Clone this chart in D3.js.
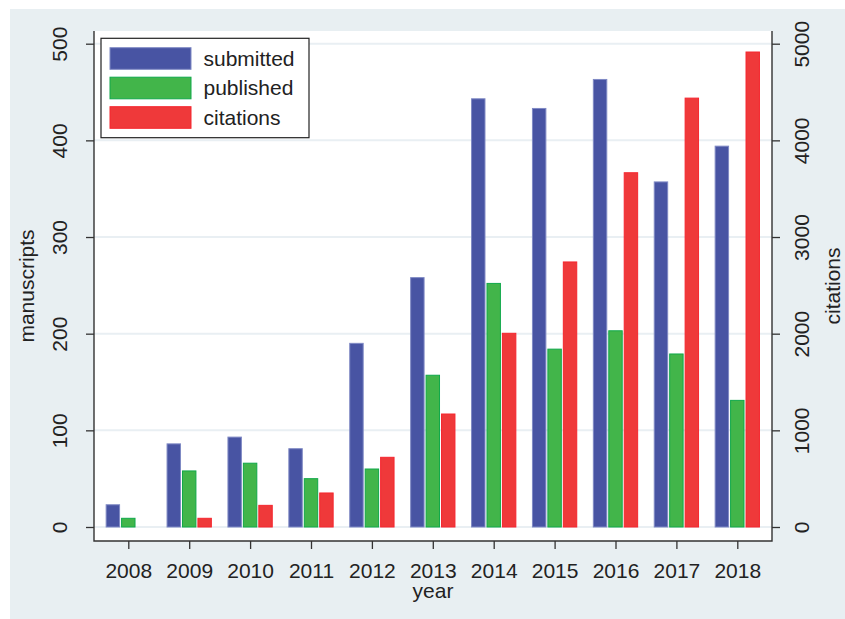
<!DOCTYPE html>
<html>
<head>
<meta charset="utf-8">
<script src="https://cdn.jsdelivr.net/npm/d3@7"></script>
<style>
  body { margin: 0; background: #fff; }
  svg text { font-family: "Liberation Sans", Arial, Helvetica, sans-serif; fill: #222; }
</style>
</head>
<body>
<svg id="chart" width="845" height="619"></svg>
<script>
// data
var years = ["2008", "2009", "2010", "2011", "2012", "2013", "2014", "2015", "2016", "2017", "2018"];
var submitted = [23, 86, 93, 81, 190, 258, 443, 433, 463, 357, 394];
var published = [9, 58, 66, 50, 60, 157, 252, 184, 203, 179, 131];
var citations = [0, 90, 224, 352, 721, 1169, 2004, 2742, 3665, 4437, 4914];
var seriesNames = ["submitted", "published", "citations"];
var manuscriptTicks = [0, 100, 200, 300, 400, 500];
var citationTicks = [0, 1000, 2000, 3000, 4000, 5000];

var fills = { submitted: "#4854a3", published: "#42b54a", citations: "#ef393a" };
var strokes = { submitted: "#7f89c4", published: "#10a84a", citations: "#f5262e" };

var svg = d3.select("#chart");

// outer panel
svg.append("rect").attr("x", 10).attr("y", 9).attr("width", 835).attr("height", 610)
  .attr("fill", "#e8eff2");

var plot = { left: 94, right: 772, top: 31, bottom: 541 };

svg.append("rect")
  .attr("x", plot.left).attr("y", plot.top)
  .attr("width", plot.right - plot.left).attr("height", plot.bottom - plot.top)
  .attr("fill", "#fff");

var x = d3.scalePoint().domain(years).range([128.3, 737.3]);
var xs = d3.scaleBand().domain(seriesNames).range([-22.15, 22.15]).paddingInner(0.13);
var yL = d3.scaleLinear().domain([0, 500]).range([527, 43.7]);
var yR = d3.scaleLinear().domain([0, 5000]).range([527, 43.7]);

// grid lines
svg.append("g").selectAll("line").data(manuscriptTicks).enter().append("line")
  .attr("x1", plot.left).attr("x2", plot.right)
  .attr("y1", function (d) { return yL(d); })
  .attr("y2", function (d) { return yL(d); })
  .attr("stroke", "#e9eff3").attr("stroke-width", 2);

// bars
var rows = years.map(function (y, i) {
  return { year: y, submitted: submitted[i], published: published[i], citations: citations[i] };
});

var groups = svg.append("g").selectAll("g").data(rows).enter().append("g")
  .attr("transform", function (d) { return "translate(" + x(d.year) + ",0)"; });

groups.selectAll("rect")
  .data(function (d) {
    return seriesNames.map(function (s) { return { key: s, value: d[s] }; });
  })
  .enter().filter(function (d) { return d.value > 0; })
  .append("rect")
  .attr("x", function (d) { return xs(d.key); })
  .attr("width", xs.bandwidth())
  .attr("y", function (d) { return d.key === "citations" ? yR(d.value) : yL(d.value); })
  .attr("height", function (d) {
    return 527 - (d.key === "citations" ? yR(d.value) : yL(d.value));
  })
  .attr("fill", function (d) { return fills[d.key]; })
  .attr("stroke", function (d) { return strokes[d.key]; })
  .attr("stroke-width", 1);

// axes
var axisColor = "#333";

var gLeft = svg.append("g").attr("transform", "translate(" + plot.left + ",0)")
  .call(d3.axisLeft(yL).tickValues(manuscriptTicks).tickSize(8).tickSizeOuter(0).tickFormat(d3.format("d")));
var gRight = svg.append("g").attr("transform", "translate(" + plot.right + ",0)")
  .call(d3.axisRight(yR).tickValues(citationTicks).tickSize(8).tickSizeOuter(0).tickFormat(d3.format("d")));
var gBottom = svg.append("g").attr("transform", "translate(0," + plot.bottom + ")")
  .call(d3.axisBottom(x).tickSize(8).tickSizeOuter(0));

[gLeft, gRight, gBottom].forEach(function (g) {
  g.select(".domain").remove();
  g.selectAll(".tick line").attr("stroke", axisColor).attr("stroke-width", 1.3);
  g.selectAll("text").attr("font-size", 21).attr("fill", "#222")
    .style("font-family", "'Liberation Sans', Arial, sans-serif");
});

// rotated y tick labels
gLeft.selectAll(".tick text")
  .attr("x", null).attr("dy", null)
  .attr("text-anchor", "middle")
  .attr("transform", "translate(-27.5,0) rotate(-90)");
gRight.selectAll(".tick text")
  .attr("x", null).attr("dy", null)
  .attr("text-anchor", "middle")
  .attr("transform", "translate(37,0) rotate(-90)");
gBottom.selectAll(".tick text").attr("y", null).attr("dy", null)
  .attr("transform", "translate(0,36.5)");

// axis lines
svg.append("path")
  .attr("d", "M" + plot.left + "," + plot.top + "V" + plot.bottom + "H" + plot.right + "V" + plot.top)
  .attr("fill", "none").attr("stroke", axisColor).attr("stroke-width", 1.4);

// axis titles
svg.append("text").attr("text-anchor", "middle").attr("font-size", 21)
  .attr("transform", "translate(33.5,286) rotate(-90)").text("manuscripts");
svg.append("text").attr("text-anchor", "middle").attr("font-size", 21)
  .attr("transform", "translate(840,286) rotate(-90)").text("citations");
svg.append("text").attr("text-anchor", "middle").attr("font-size", 21)
  .attr("x", (plot.left + plot.right) / 2).attr("y", 597.5).text("year");

// legend
var legend = svg.append("g");
legend.append("rect").attr("x", 101).attr("y", 38.3).attr("width", 208).attr("height", 99.4)
  .attr("fill", "#fff").attr("stroke", "#222").attr("stroke-width", 1.2);
var li = legend.selectAll("g.item").data(seriesNames).enter().append("g")
  .attr("class", "item")
  .attr("transform", function (d, i) { return "translate(0," + (47.7 + i * 29.5) + ")"; });
li.append("rect").attr("x", 110).attr("y", 0).attr("width", 81).attr("height", 21.6)
  .attr("fill", function (d) { return fills[d]; })
  .attr("stroke", function (d) { return strokes[d]; }).attr("stroke-width", 1);
li.append("text").attr("x", 203.5).attr("y", 17.8).attr("font-size", 21)
  .text(function (d) { return d; });
</script>
</body>
</html>
